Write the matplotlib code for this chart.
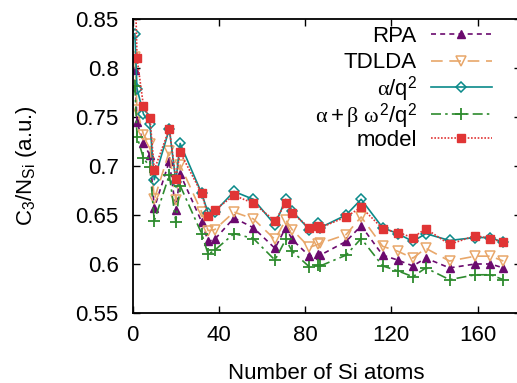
import matplotlib
matplotlib.use("Agg")
import matplotlib.pyplot as plt
from matplotlib.legend import Legend
from matplotlib.ticker import FormatStrFormatter, MultipleLocator

plt.rcParams["font.family"] = ["Liberation Sans", "DejaVu Sans"]
plt.rcParams["mathtext.fontset"] = "custom"
plt.rcParams["mathtext.rm"] = "Liberation Sans"
plt.rcParams["mathtext.it"] = "Liberation Serif"

# number of Si atoms in each cluster
n_si = [1, 2, 5, 8, 10, 17, 20, 22, 32, 35, 38, 47, 56, 66, 71, 74, 82, 86, 87,
        99, 106, 116, 123, 130, 136, 147, 159, 166, 172]

rpa = [0.798, 0.745, 0.723, 0.711, 0.657, 0.705, 0.655, 0.692, 0.643, 0.623, 0.625,
       0.647, 0.637, 0.616, 0.637, 0.625, 0.608, 0.610, 0.609,
       0.623, 0.639, 0.609, 0.604, 0.598, 0.606, 0.596, 0.600, 0.600, 0.596]
tdlda = [0.811, 0.757, 0.732, 0.722, 0.666, 0.715, 0.665, 0.701, 0.653, 0.634, 0.635,
         0.653, 0.646, 0.625, 0.645, 0.635, 0.617, 0.620, 0.621,
         0.630, 0.648, 0.618, 0.613, 0.606, 0.616, 0.603, 0.608, 0.608, 0.603]
alpha_q2 = [0.835, 0.779, 0.753, 0.743, 0.686, 0.738, 0.684, 0.723, 0.672, 0.652, 0.653,
            0.674, 0.666, 0.640, 0.666, 0.654, 0.635, 0.642, 0.637,
            0.650, 0.666, 0.637, 0.631, 0.623, 0.631, 0.624, 0.627, 0.627, 0.622]
alpha_beta = [0.782, 0.730, 0.708, 0.699, 0.644, 0.691, 0.643, 0.680, 0.631, 0.610, 0.614,
              0.631, 0.626, 0.604, 0.625, 0.613, 0.597, 0.599, 0.598,
              0.609, 0.626, 0.598, 0.593, 0.587, 0.596, 0.584, 0.589, 0.589, 0.584]
model = [0.900, 0.810, 0.761, 0.749, 0.696, 0.738, 0.687, 0.714, 0.672, 0.649, 0.655,
         0.670, 0.662, 0.644, 0.662, 0.652, 0.637, 0.639, 0.637,
         0.648, 0.658, 0.636, 0.632, 0.627, 0.636, 0.620, 0.629, 0.626, 0.622]

fig = plt.figure(figsize=(5.17, 3.83), dpi=100)
ax = fig.add_axes([0.2567, 0.1828, 0.7503, 0.7676])

ax.plot(n_si, rpa, color="#6B0A6E", linestyle=(0, (3, 2.5)), lw=1.2,
        marker="^", ms=6, mfc="#6B0A6E", mec="#6B0A6E", label="RPA")
ax.plot(n_si, tdlda, color="#E8A76A", linestyle=(0, (7, 4)), lw=1.2,
        marker="v", ms=7, mfc="none", mec="#E8A76A", mew=1.1, label="TDLDA")
ax.plot(n_si, alpha_q2, color="#0A8A8A", linestyle="-", lw=1.2,
        marker="D", ms=5.5, mfc="none", mec="#0A8A8A", mew=1.1, label=r"$\alpha/\mathrm{q}^2$")
ax.plot(n_si, alpha_beta, color="#2E8B2E", linestyle=(0, (6, 2.5, 1.5, 2.5)), lw=1.2,
        marker="+", ms=8, mew=1.3, label=r"$\alpha + \beta\ \omega^2/\mathrm{q}^2$")
ax.plot(n_si, model, color="#E03535", linestyle=(0, (1, 1)), lw=1.2,
        marker="s", ms=5.5, mfc="#E03535", mec="#E03535", label="model")

ax.set_xlim(0, 180)
ax.set_ylim(0.55, 0.85)
ax.xaxis.set_major_locator(MultipleLocator(40))
ax.yaxis.set_major_locator(MultipleLocator(0.05))
ax.yaxis.set_major_formatter(FormatStrFormatter("%g"))
ax.tick_params(direction="in", top=True, right=True, length=5, width=1,
               labelsize=16)
ax.tick_params(axis="x", pad=9)
ax.tick_params(axis="y", pad=10)
for sp in ax.spines.values():
    sp.set_linewidth(1.3)

ax.set_xlabel("Number of Si atoms", fontsize=16, labelpad=12)
ax.set_ylabel(r"C$_3$/N$_{\mathrm{Si}}$ (a.u.)", fontsize=16, labelpad=26)

# gnuplot-style key: one row per entry, evenly spaced
key_rows = [0.942, 0.851, 0.762, 0.670, 0.586]
handles, labels = ax.get_legend_handles_labels()
for h, lab, yk in zip(handles, labels, key_rows):
    leg = Legend(ax, [h], [lab], loc="center right", bbox_to_anchor=(0.926, yk),
                 frameon=False, markerfirst=False, fontsize=16, handlelength=2.75,
                 handletextpad=0.63, borderaxespad=0.0, borderpad=0.0)
    ax.add_artist(leg)

fig.savefig("out.png", dpi=100)
